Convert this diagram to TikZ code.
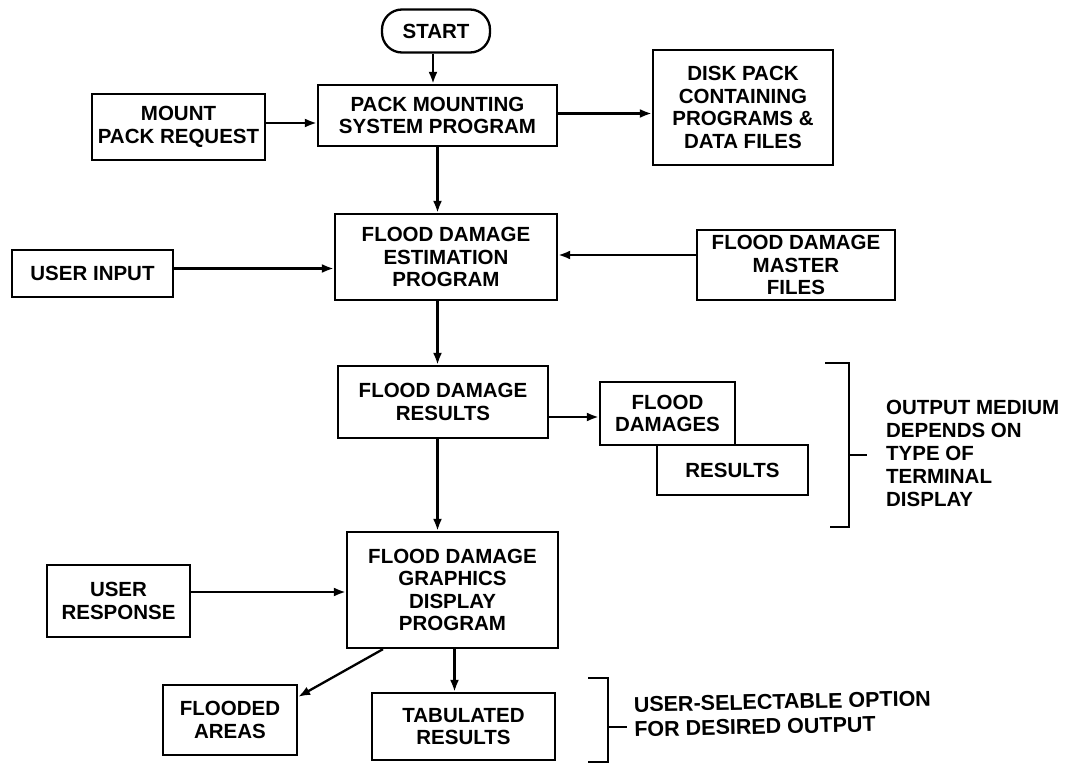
\documentclass[tikz,border=0pt]{standalone}
\usepackage{fontspec}
\setmainfont{Liberation Sans}
\usetikzlibrary{arrows.meta}
\begin{document}
\begin{tikzpicture}[x=1pt,y=-1pt,
  line width=2.3pt,
  every node/.style={font=\bfseries\fontsize{20.5}{22.5}\selectfont},
  box/.style={draw,rectangle,align=center,inner sep=0pt},
  arr/.style={-{Latex[length=12pt,width=9pt]}},
  bracketline/.style={line width=2.3pt}
]
\useasboundingbox (0,0) rectangle (1080,765);
% nodes
\node[box,rounded corners=20pt,minimum width=108pt,minimum height=43pt] (start) at (436,31) {START};
\node[box,minimum width=239pt,minimum height=61pt] (pmsp) at (437.5,115.5) {PACK MOUNTING\\SYSTEM PROGRAM};
\node[box,minimum width=173pt,minimum height=66pt] (mpr) at (178.5,127) {MOUNT\\PACK REQUEST};
\node[box,minimum width=180pt,minimum height=115pt] (disk) at (743,107.5) {DISK PACK\\CONTAINING\\PROGRAMS \&\\DATA FILES};
\node[box,minimum width=222pt,minimum height=86pt] (fdep) at (446,257) {FLOOD DAMAGE\\ESTIMATION\\PROGRAM};
\node[box,minimum width=161pt,minimum height=47pt] (uin) at (92.5,273.5) {USER INPUT};
\node[box,minimum width=198pt,minimum height=70pt] (fdmf) at (796,265) {FLOOD DAMAGE\\MASTER\\FILES};
\node[box,minimum width=210pt,minimum height=72pt] (fdr) at (443,402) {FLOOD DAMAGE\\RESULTS};
\node[box,minimum width=151pt,minimum height=50pt] (res) at (732.5,470) {RESULTS};
\node[box,fill=white,minimum width=135pt,minimum height=63pt] (fds) at (667.5,413.5) {FLOOD\\DAMAGES};
\node[box,minimum width=211pt,minimum height=116pt] (fdgdp) at (452.5,590) {FLOOD DAMAGE\\GRAPHICS\\DISPLAY\\PROGRAM};
\node[box,minimum width=143pt,minimum height=72pt] (ures) at (118.5,601) {USER\\RESPONSE};
\node[box,minimum width=134pt,minimum height=70pt] (fla) at (230,720) {FLOODED\\AREAS};
\node[box,minimum width=183pt,minimum height=67pt] (tab) at (463.5,726.5) {TABULATED\\RESULTS};
% connectors
\draw[arr] ([xshift=-3pt]start.south) -- ([xshift=-3pt]start.south |- pmsp.north);
\draw[arr] ([yshift=4pt]mpr.east) -- ([yshift=4pt]mpr.east -| pmsp.west);
\draw[arr] ([yshift=2pt]pmsp.east) -- ([yshift=2pt]pmsp.east -| disk.west);
\draw[arr] (pmsp.south) -- (pmsp.south |- fdep.north);
\draw[arr] ([yshift=5pt]uin.east) -- ([yshift=5pt]uin.east -| fdep.west);
\draw[arr] ([yshift=10pt]fdmf.west) -- ([yshift=10pt]fdmf.west -| fdep.east);
\draw[arr] (pmsp.south |- fdep.south) -- (pmsp.south |- fdr.north);
\draw[arr] ([yshift=-15pt]fdr.east) -- ([yshift=-15pt]fdr.east -| fds.west);
\draw[arr] (pmsp.south |- fdr.south) -- (pmsp.south |- fdgdp.north);
\draw[arr] ([yshift=9pt]ures.east) -- ([yshift=9pt]ures.east -| fdgdp.west);
\draw[arr] ([xshift=-69.5pt]fdgdp.south) -- ([yshift=-13pt]fla.north east);
\draw[arr] ([xshift=2pt]fdgdp.south) -- ([xshift=2pt]fdgdp.south |- tab.north);
% brackets
\draw[bracketline] (825,363) -- (849,363) -- (849,527) -- (830,527);
\draw[bracketline] (849,455) -- (867,455);
\node[anchor=west,align=left,inner sep=0pt,font=\bfseries\fontsize{20.5}{23}\selectfont] (note1) at (885,453) {OUTPUT MEDIUM\\DEPENDS ON\\TYPE OF\\TERMINAL\\DISPLAY};
\draw[bracketline] (588,678) -- (608,678) -- (608,762) -- (588,762);
\draw[bracketline] (608,727) -- (627,727);
\node[anchor=west,align=left,inner sep=0pt,rotate=1.2,font=\bfseries\fontsize{21.5}{24.5}\selectfont] (note2) at (633,717) {USER-SELECTABLE OPTION\\FOR DESIRED OUTPUT};
\end{tikzpicture}
\end{document}
